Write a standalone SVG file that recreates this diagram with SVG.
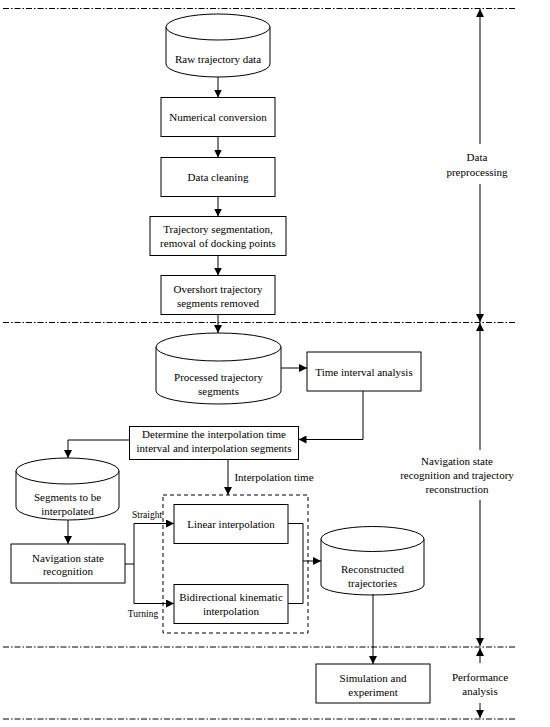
<svg xmlns="http://www.w3.org/2000/svg" width="550" height="727" viewBox="0 0 550 727">
<defs>
<marker id="ah" viewBox="0 0 10 10" refX="10" refY="5" markerWidth="8" markerHeight="8" markerUnits="userSpaceOnUse" orient="auto"><path d="M0,0 L10,5 L0,10 z" fill="#000"/></marker>
</defs>
<style>
.b{fill:#fff;stroke:#000;stroke-width:1}
.c{fill:none;stroke:#000;stroke-width:1}
.t{font-family:"Liberation Serif","Times New Roman",serif;font-size:11px;fill:#000;text-anchor:middle}
.s{font-family:"Liberation Serif","Times New Roman",serif;font-size:9.5px;fill:#000;text-anchor:middle}
.dd{fill:none;stroke:#000;stroke-width:1;stroke-dasharray:6 2 1.5 2}
.dash{fill:none;stroke:#000;stroke-width:1;stroke-dasharray:4 3}
</style>
<rect width="550" height="727" fill="#fff"/>
<g id="separators">
<line class="dd" x1="3" y1="8.5" x2="515" y2="8.5"/>
<line class="dd" x1="3" y1="322.5" x2="515" y2="322.5"/>
<line class="dd" x1="3" y1="647" x2="515" y2="647"/>
<line class="dd" x1="3" y1="719" x2="515" y2="719"/>
</g>
<g id="raw">
<path class="b" d="M166,27 V64 A52,13 0 0 0 270,64 V27"/>
<ellipse class="b" cx="218" cy="27" rx="52" ry="13"/>
<text class="t" x="218" y="63">Raw trajectory data</text>
</g>
<g id="numerical"><rect class="b" x="161" y="97.5" width="114" height="39"/><text class="t" x="218" y="121">Numerical conversion</text></g>
<g id="cleaning"><rect class="b" x="161" y="157.5" width="114" height="39"/><text class="t" x="218" y="181">Data cleaning</text></g>
<g id="segmentation"><rect class="b" x="150" y="216.5" width="136" height="39"/><text class="t" x="218" y="233">Trajectory segmentation,</text><text class="t" x="218" y="247">removal of docking points</text></g>
<g id="overshort"><rect class="b" x="161" y="275.5" width="114" height="39"/><text class="t" x="218" y="293">Overshort trajectory</text><text class="t" x="218" y="307">segments removed</text></g>
<g id="processed">
<path class="b" d="M156,347 V391 A62.5,13 0 0 0 281,391 V347"/>
<ellipse class="b" cx="218.5" cy="347" rx="62.5" ry="14"/>
<text class="t" x="218.5" y="381">Processed trajectory</text><text class="t" x="218.5" y="395">segments</text>
</g>
<g id="timeinterval"><rect class="b" x="307" y="352" width="114" height="39"/><text class="t" x="364" y="376">Time interval analysis</text></g>
<g id="determine"><rect class="b" x="129.5" y="426.5" width="169" height="33"/><text class="t" x="214" y="437.5">Determine the interpolation time</text><text class="t" x="214" y="451.5">interval and interpolation segments</text></g>
<g id="tobeinterp">
<path class="b" d="M16,471 V507 A51.5,13 0 0 0 119,507 V471"/>
<ellipse class="b" cx="67.5" cy="471" rx="51.5" ry="13"/>
<text class="t" x="67.5" y="501">Segments to be</text><text class="t" x="67.5" y="515">interpolated</text>
</g>
<g id="navstate"><rect class="b" x="11" y="544" width="114" height="39"/><text class="t" x="68" y="562">Navigation state</text><text class="t" x="68" y="575">recognition</text></g>
<g id="interpgroup"><rect class="dash" x="163" y="495" width="145" height="138"/></g>
<g id="linear"><rect class="b" x="174" y="504.5" width="114" height="39"/><text class="t" x="231" y="528">Linear interpolation</text></g>
<g id="bidirectional"><rect class="b" x="174" y="584.5" width="114" height="39"/><text class="t" x="231" y="601">Bidirectional kinematic</text><text class="t" x="231" y="615">interpolation</text></g>
<g id="reconstructed">
<path class="b" d="M321,539 V585 A51.5,10 0 0 0 424,585 V539"/>
<ellipse class="b" cx="372.5" cy="539" rx="51.5" ry="12.5"/>
<text class="t" x="372.5" y="573">Reconstructed</text><text class="t" x="372.5" y="587">trajectories</text>
</g>
<g id="simulation"><rect class="b" x="316" y="664" width="114" height="39"/><text class="t" x="373" y="682">Simulation and</text><text class="t" x="373" y="696">experiment</text></g>
<g id="phases">
<text class="t" x="477" y="161">Data</text><text class="t" x="477" y="176">preprocessing</text>
<text class="t" x="457" y="465">Navigation state</text><text class="t" x="457" y="479">recognition and trajectory</text><text class="t" x="457" y="493">reconstruction</text>
<text class="t" x="480" y="681">Performance</text><text class="t" x="480" y="695">analysis</text>
</g>
<g id="connectors">
<line class="c" x1="218" y1="77" x2="218" y2="97.5" marker-end="url(#ah)"/>
<line class="c" x1="218" y1="136.5" x2="218" y2="157.5" marker-end="url(#ah)"/>
<line class="c" x1="218" y1="196.5" x2="218" y2="216.5" marker-end="url(#ah)"/>
<line class="c" x1="218" y1="255.5" x2="218" y2="275.5" marker-end="url(#ah)"/>
<line class="c" x1="218" y1="314.5" x2="218" y2="333" marker-end="url(#ah)"/>
<line class="c" x1="281" y1="368" x2="307" y2="368" marker-end="url(#ah)"/>
<polyline class="c" points="363,391 363,439.5 298.5,439.5" marker-end="url(#ah)"/>
<polyline class="c" points="129.5,440 68,440 68,458" marker-end="url(#ah)"/>
<line class="c" x1="228" y1="459.5" x2="228" y2="495" marker-end="url(#ah)"/>
<text class="t" x="274" y="481">Interpolation time</text>
<line class="c" x1="68" y1="520" x2="68" y2="544" marker-end="url(#ah)"/>
<polyline class="c" points="125,564 134,564 134,523.5 174,523.5" marker-end="url(#ah)"/>
<polyline class="c" points="134,564 134,603.5 174,603.5" marker-end="url(#ah)"/>
<text class="s" x="147" y="518">Straight</text>
<text class="s" x="143" y="617">Turning</text>
<polyline class="c" points="288,523.5 303,523.5 303,603.5 288,603.5"/>
<line class="c" x1="303" y1="561" x2="321" y2="561" marker-end="url(#ah)"/>
<line class="c" x1="373" y1="594" x2="373" y2="664" marker-end="url(#ah)"/>
<line class="c" x1="480" y1="144" x2="480" y2="9" marker-end="url(#ah)"/>
<line class="c" x1="480" y1="184" x2="480" y2="322" marker-end="url(#ah)"/>
<line class="c" x1="480" y1="450" x2="480" y2="323" marker-end="url(#ah)"/>
<line class="c" x1="480" y1="500" x2="480" y2="646" marker-end="url(#ah)"/>
<line class="c" x1="480" y1="663" x2="480" y2="648" marker-end="url(#ah)"/>
<line class="c" x1="480" y1="703" x2="480" y2="718" marker-end="url(#ah)"/>
</g>
</svg>
